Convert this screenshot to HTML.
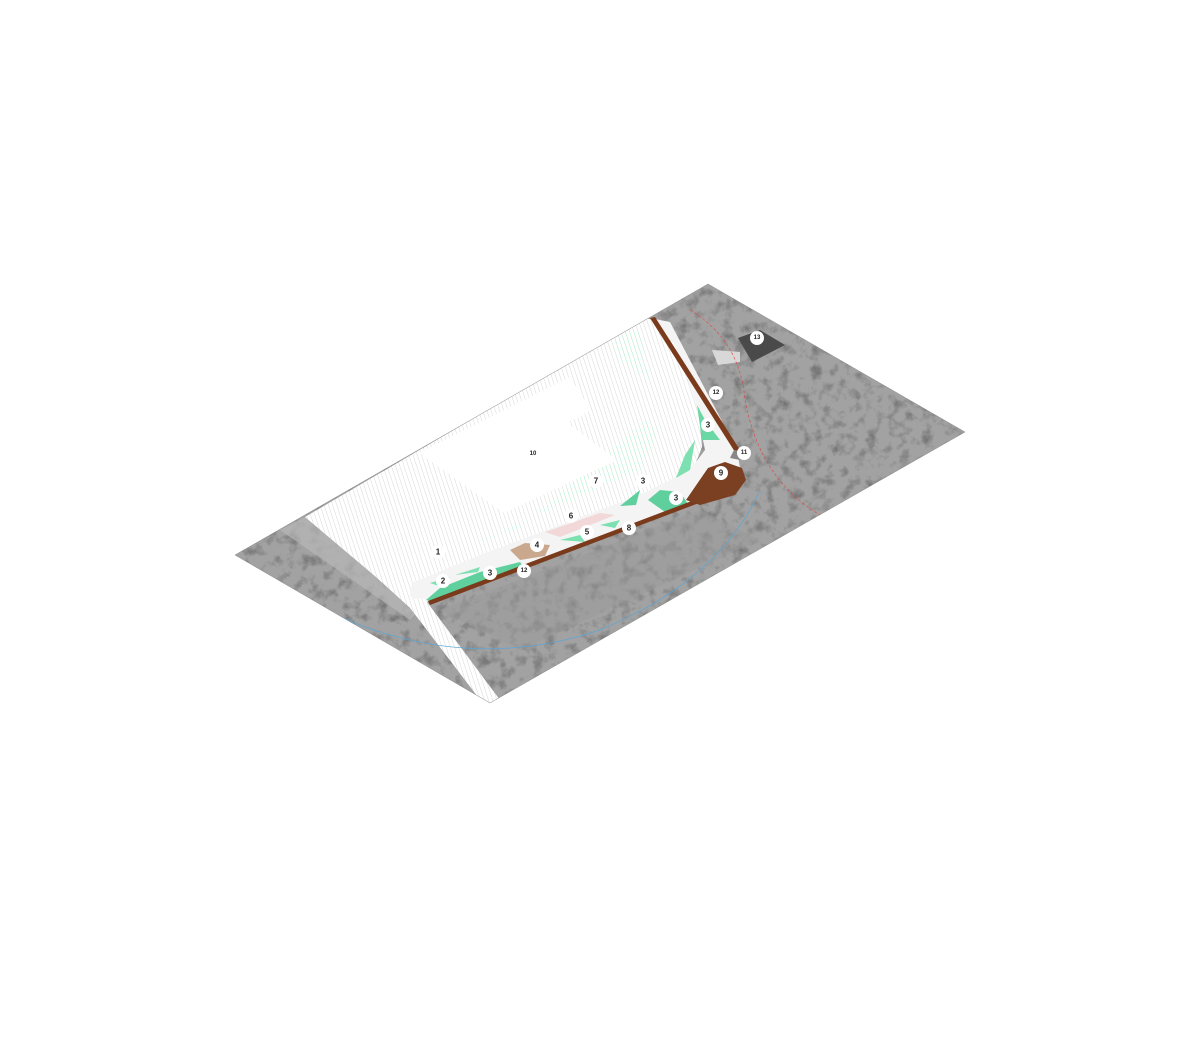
<!DOCTYPE html>
<html><head><meta charset="utf-8"><style>
html,body{margin:0;padding:0;background:#fff;}
svg{display:block}
text{font-family:"Liberation Sans",sans-serif;font-size:8px;font-weight:bold;fill:#222;text-anchor:middle;dominant-baseline:central}
</style></head><body>
<svg width="1200" height="1044" viewBox="0 0 1200 1044" xmlns="http://www.w3.org/2000/svg">
<defs>
<filter id="tex" x="0" y="0" width="100%" height="100%">
<feTurbulence type="fractalNoise" baseFrequency="0.09" numOctaves="4" seed="7"/>
<feColorMatrix type="matrix" values="0 0 0 0 0.15  0 0 0 0 0.15  0 0 0 0 0.15  0 0 0 -2.4 1.25"/>
<feComposite in2="SourceGraphic" operator="in"/>
</filter>
<pattern id="hatch" width="4" height="4" patternUnits="userSpaceOnUse" patternTransform="rotate(-18)">
<rect width="4" height="4" fill="#fff"/><line x1="0" y1="0" x2="0" y2="4" stroke="#cfcfcf" stroke-width="0.8"/>
</pattern>
<pattern id="ghatch" width="4" height="4" patternUnits="userSpaceOnUse" patternTransform="rotate(-18)">
<rect width="4" height="4" fill="#fff"/><line x1="0" y1="0" x2="0" y2="4" stroke="#a8e8c8" stroke-width="1"/>
</pattern>
<clipPath id="pg"><polygon points="235,555 708,284 965,432 490,703"/></clipPath>
</defs>
<g clip-path="url(#pg)">
<polygon points="235,555 708,284 965,432 490,703" fill="#a2a2a2"/>
<rect x="230" y="280" width="740" height="430" fill="#000" filter="url(#tex)" opacity="0.85"/>
<polygon points="440,610 700,510 760,540 520,650" fill="#9a9a9a" opacity="0.5"/>
<!-- road left -->
<polygon points="280,530 305,517 420,610 410,620" fill="#b8b8b8" opacity="0.7"/>
<!-- site white -->
<polygon points="305,517 645,318 666,323 697,390 702,447 688,483 419,587 409,607 376,577" fill="url(#hatch)"/>
<polygon points="470,545 560,505 640,470 660,430 645,420 520,528" fill="url(#ghatch)"/>
<polygon points="612,340 640,330 650,380 620,360" fill="url(#ghatch)"/>
<polygon points="419,453 570,377 591,410 567,423 617,460 504,513" fill="#fff"/>
<!-- path -->
<polygon points="650,318 670,322 737,450 740,468 710,495 432,600 417,606 410,595 412,583 480,555 640,495 690,470 705,450 695,400 675,345" fill="#f4f4f4"/>
<!-- road strip -->
<polygon points="404,600 424,598 500,700 484,705" fill="url(#hatch)"/>
<!-- greens -->
<polygon points="426,600 440,588 480,572 520,562 524,567 430,601" fill="#5fcf9e"/>
<polygon points="430,583 450,577 445,588" fill="#7de0b0"/>
<polygon points="455,575 480,567 478,572" fill="#7de0b0"/>
<polygon points="648,500 660,490 680,492 688,504 665,512" fill="#5fcf9e"/>
<polygon points="620,506 640,490 636,505" fill="#5fcf9e"/>
<polygon points="697,405 705,420 720,440 702,440" fill="#6ad8a4"/>
<polygon points="685,455 695,440 690,470 676,478" fill="#7de0b0"/>
<polygon points="560,540 580,535 585,542" fill="#7de0b0"/>
<polygon points="600,525 620,520 615,528" fill="#7de0b0"/>
<polygon points="510,550 525,543 550,545 545,556 520,560" fill="#c9a88e"/>
<polygon points="545,532 600,513 615,515 560,537" fill="#f2d8d8"/>
<!-- brown strips -->
<polygon points="650,318 655,317 740,450 735,452" fill="#7a3a1c"/>
<polygon points="428,601 697,499 699,503 430,605" fill="#7a3a1c"/>
<path d="M686,500 L708,468 L725,462 L742,468 L746,480 L735,495 L700,505 Z" fill="#7b3f22"/>
<polygon points="734,450 745,452 740,460 730,458" fill="#888"/>
<!-- building 13 -->
<polygon points="738,338 760,330 785,345 752,362" fill="#4a4a4a"/>
<polygon points="712,350 740,352 740,362 718,365" fill="#d8d8d8"/>
<!-- red & blue lines -->
<path d="M690,310 Q740,340 745,400 Q760,480 820,515" stroke="#d44" stroke-width="0.6" fill="none" stroke-dasharray="3,2"/>
<path d="M235,560 Q300,600 360,625 Q480,670 600,630 Q720,580 760,490" stroke="#5aa6d6" stroke-width="0.7" fill="none"/>
</g>
<polygon points="235,555 708,284 965,432 490,703" fill="none" stroke="#888" stroke-width="0.5"/>
<g>
<circle cx="757" cy="338" r="7" fill="#fff"/><text x="757" y="338" style="font-size:6px">13</text>
<circle cx="716" cy="393" r="7" fill="#fff"/><text x="716" y="393" style="font-size:6px">12</text>
<circle cx="708" cy="425" r="7" fill="#fff"/><text x="708" y="425">3</text>
<circle cx="744" cy="453" r="7" fill="#fff"/><text x="744" y="453" style="font-size:6px">11</text>
<circle cx="721" cy="473" r="7" fill="#fff"/><text x="721" y="473">9</text>
<circle cx="643" cy="481" r="7" fill="#fff"/><text x="643" y="481">3</text>
<circle cx="596" cy="481" r="7" fill="#fff"/><text x="596" y="481">7</text>
<text x="533" y="454" style="font-size:6px">10</text>
<circle cx="676" cy="498" r="7" fill="#fff"/><text x="676" y="498">3</text>
<circle cx="571" cy="516" r="7" fill="#fff"/><text x="571" y="516">6</text>
<circle cx="629" cy="528" r="7" fill="#fff"/><text x="629" y="528">8</text>
<circle cx="587" cy="532" r="7" fill="#fff"/><text x="587" y="532">5</text>
<circle cx="537" cy="545" r="7" fill="#fff"/><text x="537" y="545">4</text>
<circle cx="438" cy="552" r="7" fill="#fff"/><text x="438" y="552">1</text>
<circle cx="443" cy="581" r="7" fill="#fff"/><text x="443" y="581">2</text>
<circle cx="490" cy="573" r="7" fill="#fff"/><text x="490" y="573">3</text>
<circle cx="524" cy="571" r="7" fill="#fff"/><text x="524" y="571" style="font-size:6px">12</text>
</g>
</svg>
</body></html>
